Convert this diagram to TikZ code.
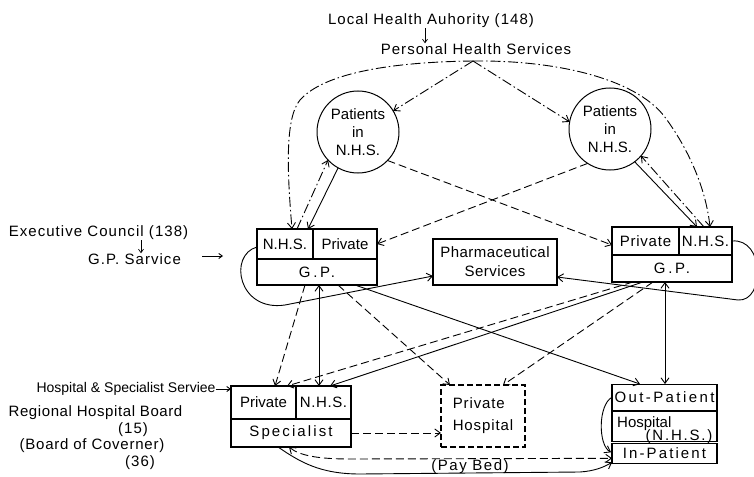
\documentclass[tikz,border=0pt]{standalone}
\usepackage{fontspec}
\setmainfont{Liberation Sans}
\usetikzlibrary{arrows.meta,calc}
\tikzset{
  lbl/.style={font=\fontsize{15}{17}\selectfont\addfontfeatures{LetterSpace=7}, inner sep=0pt},
  lbls/.style={font=\fontsize{14}{16}\selectfont, inner sep=0pt},
  txt/.style={font=\fontsize{15}{17}\selectfont, inner sep=0pt},
  cell/.style={draw, line width=1.1pt, inner sep=0pt, outer sep=0pt, font=\fontsize{15}{17}\selectfont},
  sp/.style={font=\fontsize{15}{17}\selectfont\addfontfeatures{LetterSpace=#1}},
  circ/.style={draw, circle, line width=1pt, minimum size=82pt, inner sep=0pt, outer sep=0pt, align=center, font=\fontsize{15}{18}\selectfont},
  con/.style={line width=0.9pt},
  dsh/.style={con, dash pattern=on 8pt off 4pt},
  dd/.style={con, dash pattern=on 10pt off 3pt on 1.5pt off 3pt},
  ar0/.style={-{Straight Barb[length=3.5pt,width=5pt]}},
  ar1/.style={-{Straight Barb[length=5.5pt,width=8pt]}},
  ar2/.style={{Straight Barb[length=5.5pt,width=8pt]}-{Straight Barb[length=5.5pt,width=8pt]}},
}
\begin{document}
\begin{tikzpicture}[x=1pt,y=-1pt]
\useasboundingbox (0,0) rectangle (754,476);

% ---- top labels
\node[lbl] (lha) at (431,21) {Local Health Auhority (148)};
\node[lbl] (phs) at (476,49) {Personal Health Services};
\coordinate (hub) at (473,61);

% ---- circles
\node[circ] (lc) at (358,132) {Patients\\in\\N.H.S.};
\node[circ] (rc) at (610,129) {Patients\\in\\N.H.S.};

% ---- left G.P.
\node[cell, minimum width=56pt, minimum height=30pt] (lgpA) at (285,244) {N.H.S.};
\node[cell, minimum width=64pt, minimum height=30pt] (lgpB) at (345,244) {Private};
\node[cell, sp=18, minimum width=120pt, minimum height=26pt] (lgpC) at (317,272) {G.P.};

% ---- right G.P.
\node[cell, sp=5, minimum width=67pt, minimum height=28pt] (rgpA) at (645.5,241) {Private};
\node[cell, sp=4, minimum width=53pt, minimum height=28pt] (rgpB) at (705.5,241) {N.H.S.};
\node[cell, sp=18, minimum width=120pt, minimum height=27pt] (rgpC) at (672,268.5) {G.P.};

% ---- pharmaceutical
\node[cell, minimum width=124pt, minimum height=46pt, align=center, font=\fontsize{15}{19}\selectfont\addfontfeatures{LetterSpace=3}] (ph) at (495,262) {Pharmaceutical\\Services};

% ---- specialist
\node[cell, minimum width=65pt, minimum height=33pt] (spA) at (263.5,402.5) {Private};
\node[cell, sp=4, minimum width=55pt, minimum height=33pt] (spB) at (323.5,402.5) {N.H.S.};
\node[cell, sp=14, minimum width=120pt, minimum height=28pt] (spC) at (291,433) {Specialist};

% ---- private hospital
\node[cell, dash pattern=on 6pt off 3pt, minimum width=84pt, minimum height=62pt, align=left, font=\fontsize{15}{22}\selectfont\addfontfeatures{LetterSpace=6}] (phh) at (483,416) {Private\\Hospital};

% ---- N.H.S. hospital
\node[cell, sp=16, minimum width=105pt, minimum height=26.3pt] (out) at (664.5,397.2) {Out-Patient};
\node[cell, minimum width=105pt, minimum height=30pt] (hos) at (664.5,426.7) {};
\node[cell, sp=14, minimum width=105pt, minimum height=20pt] (inp) at (664.5,453.3) {In-Patient};
\node[txt, anchor=west] (hosT) at (617,423.5) {Hospital};
\node[txt, sp=12] (hosN) at (679,436.5) {(N.H.S.)};

% ---- side labels
\node[lbl] (exc) at (98.5,233) {Executive Council (138)};
\node[lbl] (gps) at (134.5,259) {G.P. Sarvice};
\node[lbls] (hss) at (126,389) {Hospital \& Specialist Serviee};
\node[lbl, font=\fontsize{15}{17}\selectfont\addfontfeatures{LetterSpace=4}] (rhb) at (95.5,413) {Regional Hospital Board};
\node[lbl] (n15) at (133,430) {(15)};
\node[lbl, font=\fontsize{15}{17}\selectfont\addfontfeatures{LetterSpace=5}] (bog) at (92,446) {(Board of Coverner)};
\node[lbl] (n36) at (140,463) {(36)};
\node[txt, sp=10] (pay) at (470,467) {(Pay Bed)};

% ---- label arrows
\draw[con, line width=0.7pt, ar0] (425,0 |- lha.south) -- (425,0 |- phs.north);
\draw[con, line width=0.7pt, ar0] (141,0 |- exc.south) -- (141,0 |- gps.north);
\coordinate (gpa1) at (202,256);
\coordinate (gpa2) at (223,256);
\draw[con, ar0] (gpa1) -- (gpa2);
\draw[con, ar0] (hss.east) -- ($(spA.north west)+(0,3)$);

% ---- personal health services connectors
\draw[dd,ar1] (hub) .. controls (395,62) and (325,72) .. (300,100) .. controls (285,118) and (287,170) .. (292,0 |- lgpA.north);
\draw[dd,ar1] (hub) .. controls (560,60) and (640,80) .. (667,120) .. controls (690,152) and (706,190) .. (710,0 |- rgpB.north);
\draw[dd,ar1] (hub) -- (lc.31);
\draw[dd,ar1] (hub) -- (rc.170);

% ---- circles <-> G.P.
\draw[dd,ar1] (297,0 |- lgpA.north) -- (lc.223);
\draw[con,ar1] (lc.241) -- (308,0 |- lgpA.north);
\draw[con,ar1] (rc.307) -- (697,0 |- rgpB.north);
\draw[dd,ar1] (704,0 |- rgpB.north) -- (rc.319);
\draw[dsh,ar1] (lc.316) -- ($(rgpA.west)+(0,4)$);
\draw[dsh,ar1] (rc.237) -- (lgpB.east);

% ---- G.P. loops to pharmaceutical
\draw[con,ar1] ($(lgpA.west)+(0,3)$) .. controls (228,255) and (238,312) .. (285,305) -- ($(ph.south west)+(0,-9)$);
\draw[con,ar1] (rgpB.east) .. controls (765,238) and (765,302) .. (738,300) -- ($(ph.south east)+(0,-8)$);

% ---- G.P. to lower boxes
\draw[dsh,ar1] (305,0 |- lgpC.south) -- (275,0 |- spA.north);
\draw[con,ar2] (319,0 |- lgpC.south) -- (319,0 |- spB.north);
\draw[dsh,ar1] (338,0 |- lgpC.south) -- (450,0 |- phh.north);
\draw[con,ar1] (355,0 |- lgpC.south) -- (640,0 |- out.north);
\draw[dsh,ar1] (633,0 |- rgpC.south) -- (287,0 |- spA.north);
\draw[con,ar1] (643,0 |- rgpC.south) -- (330,0 |- spB.north);
\draw[dsh,ar1] (653,0 |- rgpC.south) -- (503,0 |- phh.north);
\draw[con,ar2] (665,0 |- rgpC.south) -- (665,0 |- out.north);

% ---- specialist connectors
\draw[dsh,ar1] (spC.east) -- (phh.west |- spC.east);
\draw[dsh,ar2] (289,0 |- spC.south) .. controls (300,456) and (320,459) .. (350,459) -- ($(inp.west)+(0,5)$);
\draw[con,ar1] (278,0 |- spC.south) .. controls (300,462) and (320,474) .. (360,474) -- (580,472) .. controls (595,471) and (604,467) .. ($(inp.south west)+(0,-1)$);

% ---- out-patient to in-patient
\draw[con,ar1] (out.west) .. controls (598,405) and (598,445) .. ($(inp.west)+(-1,-1)$);
\end{tikzpicture}
\end{document}
